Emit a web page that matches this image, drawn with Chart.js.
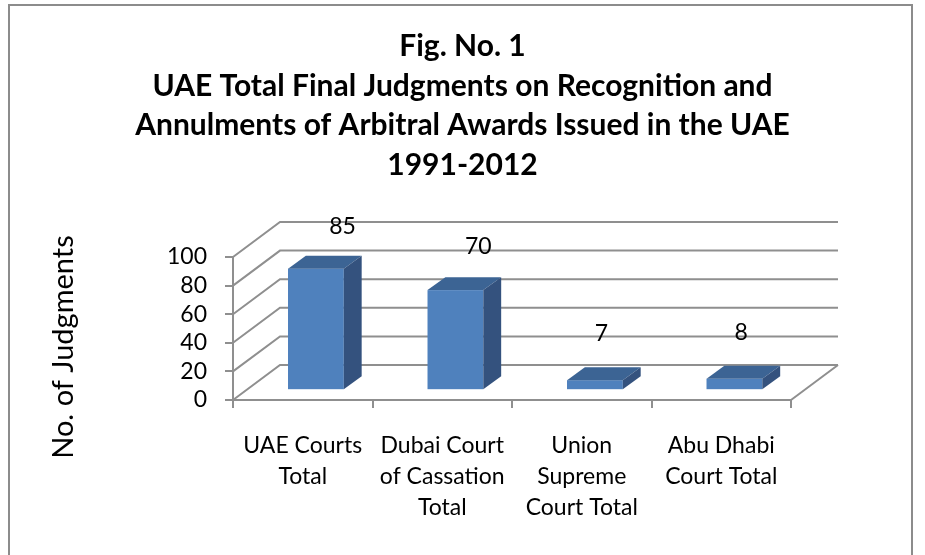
<!DOCTYPE html>
<html>
<head>
<meta charset="utf-8">
<script src="https://cdn.jsdelivr.net/npm/chart.js@4.4.1/dist/chart.umd.min.js"></script>
<style>
  html, body { margin: 0; padding: 0; background: #fff; }
  #wrap { width: 925px; height: 555px; }
</style>
</head>
<body>
<div id="wrap"><canvas id="courtChart" width="925" height="555"></canvas></div>
<script>
// chart data
const categories = [
  ["UAE Courts", "Total"],
  ["Dubai Court", "of Cassation", "Total"],
  ["Union", "Supreme", "Court Total"],
  ["Abu Dhabi", "Court Total"]
];
const judgments = [85, 70, 7, 8];
const yTicks = [0, 20, 40, 60, 80, 100];
const titleLines = [
  "Fig. No. 1",
  "UAE Total Final Judgments on Recognition and",
  "Annulments of Arbitral Awards Issued in the UAE",
  "1991-2012"
];
const yTitle = "No. of Judgments";

// look
const FONT = "Lato";
const GRID = "#8f8f8f";
const FRONT = "#4f81bd";
const TOP = "#3c6494";
const SIDE = "#34527e";
const DEPTH_X = 47, DEPTH_Y = 35;   // back wall offset

// fake 3D: back wall grid, bar boxes, value labels, y title, frame
const threeD = {
  id: "threeD",
  beforeDatasetsDraw(chart) {
    const { ctx, chartArea: a, scales: { y } } = chart;
    ctx.save();
    ctx.strokeStyle = GRID;
    ctx.lineWidth = 2;
    yTicks.forEach(v => {
      const py = y.getPixelForValue(v);
      ctx.beginPath();
      ctx.moveTo(a.left, py);
      ctx.lineTo(a.left + DEPTH_X, py - DEPTH_Y);
      ctx.lineTo(a.right + DEPTH_X, py - DEPTH_Y);
      ctx.stroke();
    });
    const y0 = y.getPixelForValue(0);
    ctx.beginPath();
    ctx.moveTo(a.right, y0);
    ctx.lineTo(a.right + DEPTH_X, y0 - DEPTH_Y);
    ctx.stroke();
    ctx.restore();
  },
  afterDatasetsDraw(chart) {
    const ctx = chart.ctx;
    const meta = chart.getDatasetMeta(0);
    // bars sit a little way into the floor
    const sx = 0.28 * DEPTH_X, sy = 0.28 * DEPTH_Y;
    const dx = 0.38 * DEPTH_X, dy = 0.37 * DEPTH_Y;
    ctx.save();
    meta.data.forEach((bar, i) => {
      const { x, y, base, width } = bar.getProps(["x", "y", "base", "width"], true);
      const l = x - width / 2 + sx, r = x + width / 2 + sx;
      const t = y - sy, b = base - sy;

      ctx.fillStyle = FRONT;
      ctx.fillRect(l, t, r - l, b - t);

      ctx.fillStyle = TOP;
      ctx.beginPath();
      ctx.moveTo(l, t);
      ctx.lineTo(l + dx, t - dy);
      ctx.lineTo(r + dx, t - dy);
      ctx.lineTo(r, t);
      ctx.closePath();
      ctx.fill();

      ctx.fillStyle = SIDE;
      ctx.beginPath();
      ctx.moveTo(r, t);
      ctx.lineTo(r + dx, t - dy);
      ctx.lineTo(r + dx, b - dy);
      ctx.lineTo(r, b);
      ctx.closePath();
      ctx.fill();

      // label drifts right on the taller bars, as in the perspective view
      ctx.fillStyle = "#000";
      ctx.font = "23px " + FONT;
      ctx.textAlign = "center";
      ctx.textBaseline = "middle";
      ctx.fillText(String(judgments[i]), (l + r) / 2 + 5 + 0.18 * (b - t), t - 47 + 0.04 * (b - t));
    });
    ctx.restore();
  },
  afterDraw(chart) {
    const ctx = chart.ctx;
    ctx.save();
    // y axis title
    ctx.translate(64, 347);
    ctx.rotate(-Math.PI / 2);
    ctx.fillStyle = "#000";
    ctx.font = "29px " + FONT;
    ctx.textAlign = "center";
    ctx.textBaseline = "middle";
    ctx.fillText(yTitle, 0, 0);
    ctx.restore();
    // chart frame
    ctx.save();
    ctx.strokeStyle = "#8c8c8c";
    ctx.lineWidth = 2;
    ctx.strokeRect(9, 5, 903, 560);
    ctx.restore();
  }
};

const ctx = document.getElementById("courtChart").getContext("2d");
new Chart(ctx, {
  type: "bar",
  data: {
    labels: categories,
    datasets: [{
      label: yTitle,
      data: judgments,
      backgroundColor: "rgba(0,0,0,0)",
      borderWidth: 0,
      barPercentage: 0.5,
      categoryPercentage: 0.8
    }]
  },
  options: {
    responsive: false,
    animation: false,
    layout: { padding: 0 },
    plugins: {
      legend: { display: false },
      tooltip: { enabled: false },
      title: {
        display: true,
        text: titleLines,
        color: "#000",
        font: { family: FONT, size: 30, weight: "bold", lineHeight: "39.5px" },
        padding: { top: 27, bottom: 72 }
      }
    },
    scales: {
      x: {
        grid: { display: true, offset: true, drawOnChartArea: false, color: GRID, lineWidth: 2, tickLength: 8 },
        border: { display: true, color: GRID, width: 2 },
        ticks: {
          color: "#000",
          font: { family: FONT, size: 23, lineHeight: "31px" },
          padding: 22,
          maxRotation: 0,
          autoSkip: false
        },
        afterFit(scale) { scale.height = 155; }
      },
      y: {
        min: 0,
        max: 100,
        grid: { display: true, drawOnChartArea: false, color: GRID, lineWidth: 2, tickLength: 8 },
        border: { display: true, color: GRID, width: 2 },
        ticks: {
          stepSize: 20,
          autoSkip: false,
          color: "#000",
          font: { family: FONT, size: 23 },
          padding: 18
        },
        afterFit(scale) { scale.width = 233; }
      },
      // empty right axis keeps room for the back wall depth
      yRight: {
        position: "right",
        display: true,
        grid: { display: false },
        border: { display: false },
        ticks: { display: false },
        afterFit(scale) { scale.width = 134; }
      }
    }
  },
  plugins: [threeD]
});
</script>
</body>
</html>
